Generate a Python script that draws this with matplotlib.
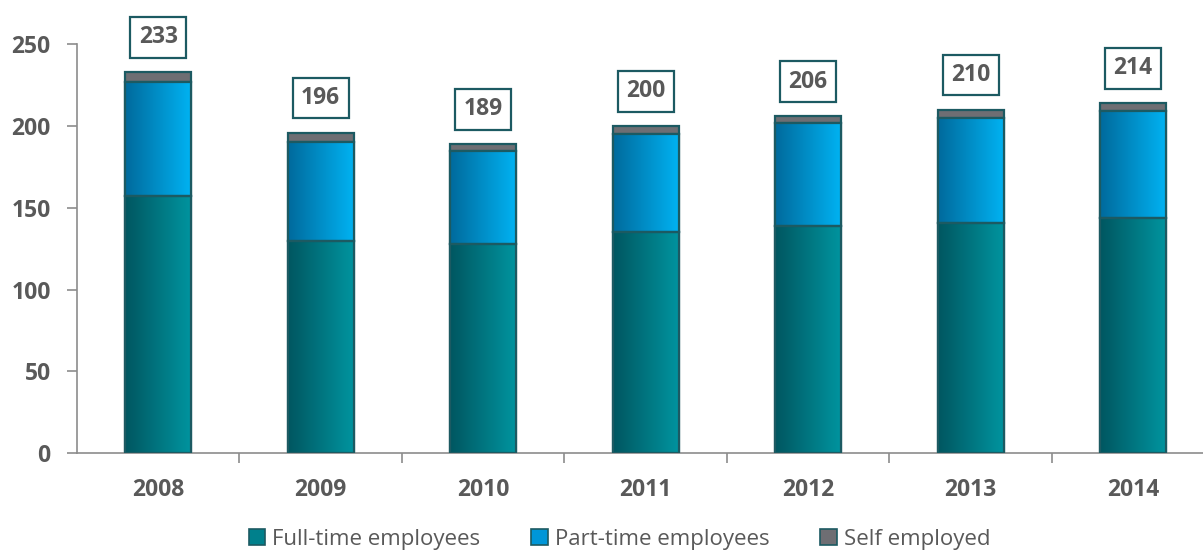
import numpy as np
import matplotlib.pyplot as plt
from matplotlib.colors import LinearSegmentedColormap
from matplotlib.patches import Patch

plt.rcParams['font.family'] = ['Open Sans', 'DejaVu Sans']

years = ['2008', '2009', '2010', '2011', '2012', '2013', '2014']
full_time = [157, 130, 128, 135, 139, 141, 143.5]
part_time = [70, 60.5, 57, 60, 63, 64, 65.5]
self_employed = [6, 5.5, 4, 5, 4, 5, 5]

series_names = ['Full-time employees', 'Part-time employees', 'Self employed']
grad_teal = ['#005660', '#00949f']
grad_blue = ['#006a9c', '#00b2f2']
grey = '#6e6e73'
edge = '#1c5a62'
text_grey = '#595959'
axis_grey = '#8c8c8c'

fig = plt.figure(figsize=(12.03, 5.54), dpi=100)
ax = fig.add_axes([0.064, 0.182, 0.936, 0.738])

x = np.arange(len(years))
width = 0.405
full = np.array(full_time)
part = np.array(part_time)
selfe = np.array(self_employed)
totals = full + part + selfe

b1 = ax.bar(x, full, width, color=grad_teal[1], edgecolor=edge, linewidth=1.6, zorder=2)
b2 = ax.bar(x, part, width, bottom=full, color=grad_blue[1], edgecolor=edge, linewidth=1.6, zorder=2)
b3 = ax.bar(x, selfe, width, bottom=full + part, color=grey, edgecolor=edge, linewidth=1.6, zorder=2)

# horizontal gradient inside each bar segment
grad = np.linspace(0, 1, 256).reshape(1, -1)
for bars, cols in [(b1, grad_teal), (b2, grad_blue)]:
    cmap = LinearSegmentedColormap.from_list('g', cols)
    for p in bars:
        x0, y0 = p.get_x(), p.get_y()
        im = ax.imshow(grad, cmap=cmap, aspect='auto', zorder=2.5,
                       extent=[x0, x0 + p.get_width(), y0, y0 + p.get_height()])
        im.set_clip_path(p)
    for p in bars:
        ax.add_patch(plt.Rectangle((p.get_x(), p.get_y()), p.get_width(), p.get_height(),
                                   fill=False, edgecolor=edge, linewidth=1.6, zorder=3))

# total labels
for xi, t in zip(x, totals):
    ax.annotate(f'{t:.0f}', (xi, t), xytext=(0, 25), textcoords='offset points',
                ha='center', va='center', fontsize=16.5, fontweight='bold', color=text_grey,
                annotation_clip=False, zorder=5,
                bbox=dict(boxstyle='square,pad=0.36', fc='white', ec=edge, lw=1.6))

ax.set_xlim(-0.5, 6.43)
ax.set_ylim(0, 250)
ax.set_yticks(range(0, 251, 50))
ax.set_xticks(x)
ax.set_xticklabels(years)
ax.set_xticks(np.arange(0.5, 6.5, 1), minor=True)
ax.tick_params(axis='x', which='major', length=0, pad=18, labelsize=16.5, labelcolor=text_grey)
ax.tick_params(axis='x', which='minor', length=7, width=1.2, color=axis_grey, direction='out')
ax.tick_params(axis='y', length=7, width=1.2, color=axis_grey, pad=12, labelsize=16.5, labelcolor=text_grey)
for lbl in ax.get_xticklabels() + ax.get_yticklabels():
    lbl.set_fontweight('bold')

for s in ['top', 'right']:
    ax.spines[s].set_visible(False)
for s in ['left', 'bottom']:
    ax.spines[s].set_color(axis_grey)
    ax.spines[s].set_linewidth(1.2)

handles = [Patch(fc='#00808c', ec=edge, lw=1.2),
           Patch(fc='#0096d8', ec=edge, lw=1.2),
           Patch(fc=grey, ec=edge, lw=1.2)]
fig.legend(handles, series_names, loc='center', bbox_to_anchor=(0.515, 0.027), ncol=3,
           frameon=False, fontsize=16, handlelength=0.75, handleheight=0.75,
           handletextpad=0.3, columnspacing=2.3, labelcolor=text_grey)

fig.savefig('out.png', dpi=100)
